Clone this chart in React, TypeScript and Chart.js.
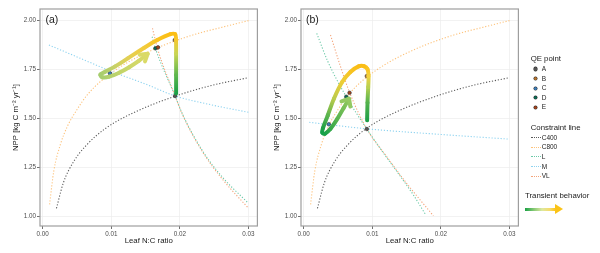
import React, { useEffect, useRef } from "react";
import { Chart, registerables } from "chart.js";

Chart.register(...registerables);

const FONT = "'Liberation Sans', Arial, sans-serif";

// axes
const xTicks = [0, 0.01, 0.02, 0.03];
const yTicks = [1.0, 1.25, 1.5, 1.75, 2.0];

// constraint curves shared by both panels
const c400X = [0.002, 0.003, 0.0045, 0.0064, 0.0092, 0.013, 0.0194, 0.0247, 0.03];
const c400Y = [1.043, 1.172, 1.28, 1.365, 1.45, 1.525, 1.614, 1.668, 1.707];
const c800X = [0.001, 0.0016, 0.0026, 0.0036, 0.005, 0.0065, 0.0085, 0.011, 0.014, 0.0175, 0.022, 0.026, 0.03];
const c800Y = [1.063, 1.23, 1.37, 1.46, 1.545, 1.62, 1.69, 1.755, 1.815, 1.87, 1.925, 1.962, 1.997];

// panel (a)
const lAX = [0.01595, 0.01643, 0.0193, 0.0204, 0.0233, 0.0261, 0.03];
const lAY = [1.915, 1.856, 1.614, 1.52, 1.335, 1.205, 1.068];
const mAX = [0.0009, 0.0055, 0.0098, 0.0151, 0.0193, 0.0247, 0.03];
const mAY = [1.873, 1.805, 1.742, 1.673, 1.614, 1.568, 1.531];
const vlAX = [0.016, 0.0167, 0.0193, 0.0204, 0.0233, 0.0261, 0.03];
const vlAY = [1.958, 1.859, 1.614, 1.517, 1.33, 1.195, 1.043];
const qeAX = [0.0193, 0.01926, 0.0098, 0.01643, 0.01681];
const qeAY = [1.614, 1.898, 1.729, 1.856, 1.861];
const pathAX = [0.01945, 0.01945, 0.01945, 0.01943, 0.0193, 0.0186, 0.0167, 0.0148, 0.0124, 0.0105, 0.0091, 0.0084, 0.0087, 0.0097, 0.0112, 0.0126, 0.014, 0.0153];
const pathAY = [1.627, 1.72, 1.83, 1.905, 1.928, 1.928, 1.898, 1.859, 1.805, 1.763, 1.737, 1.722, 1.709, 1.712, 1.733, 1.76, 1.792, 1.828];
const pathAColors = ["#1BA045", "#5DB64C", "#C9D452", "#F8C72A", "#FBBE14", "#FBBE14", "#F9C322", "#F2CB3C", "#E2D055", "#C9D166", "#B0CE6C", "#A6CD6E", "#A8CE6E", "#B2D16C", "#C0D46A", "#CCD668", "#D4D867", "#DADA66"];

// panel (b)
const lBX = [0.0019, 0.0035, 0.0062, 0.0092, 0.0115, 0.014, 0.016, 0.0178];
const lBY = [1.932, 1.79, 1.61, 1.446, 1.33, 1.21, 1.11, 1.009];
const mBX = [0.0008, 0.0092, 0.0197, 0.0298];
const mBY = [1.48, 1.447, 1.419, 1.395];
const vlBX = [0.0039, 0.0053, 0.0067, 0.0092, 0.012, 0.015, 0.0189];
const vlBY = [1.924, 1.77, 1.63, 1.446, 1.31, 1.17, 1.005];
const qeBX = [0.0092, 0.0092, 0.00365, 0.0062, 0.00668];
const qeBY = [1.446, 1.715, 1.47, 1.61, 1.63];
const pathBX = [0.00924, 0.0093, 0.0094, 0.00945, 0.0093, 0.0088, 0.008, 0.0068, 0.0056, 0.0044, 0.0035, 0.0028, 0.0027, 0.0031, 0.0039, 0.0049, 0.0058, 0.0066];
const pathBY = [1.49, 1.58, 1.66, 1.715, 1.75, 1.765, 1.764, 1.736, 1.685, 1.6, 1.515, 1.45, 1.428, 1.422, 1.447, 1.498, 1.552, 1.6];
const pathBColors = ["#1E9F48", "#52B24C", "#B9D050", "#F2D23E", "#F9C624", "#FBBE16", "#FABD16", "#F7C322", "#EDCD36", "#BCCB4C", "#5DB54E", "#22A147", "#16A047", "#1AA147", "#35A94A", "#58B44F", "#78BF58", "#94C962"];

// legend
const qeLabels = ["A", "B", "C", "D", "E"];
const qeColors = ["#555555", "#B8732C", "#3C7EBB", "#0A6B55", "#A3421C"];
const lineLabels = ["C400", "C800", "L", "M", "VL"];
const lineColors = ["#5A5A5A", "#FDC27A", "#6CC9A8", "#8ED3F0", "#F4A47A"];

const zip = (xs: number[], ys: number[]) => xs.map((x, i) => ({ x, y: ys[i] }));

const framePlugin = {
  id: "frame",
  afterDraw(chart: any) {
    const { ctx, chartArea: a } = chart;
    ctx.save();
    ctx.strokeStyle = "#9E9E9E";
    ctx.lineWidth = 1.2;
    ctx.strokeRect(a.left, a.top, a.right - a.left, a.bottom - a.top);
    ctx.restore();
  },
};

const arrowPlugin = {
  id: "arrowHead",
  afterDatasetsDraw(chart: any, _args: any, opts: any) {
    const pts = chart.getDatasetMeta(0).data;
    const n = pts.length;
    const tip = pts[n - 1];
    const prev = pts[n - 2];
    const ang = Math.atan2(tip.y - prev.y, tip.x - prev.x);
    const L = 8;
    const a = (opts.spread * Math.PI) / 180;
    const ctx = chart.ctx;
    ctx.save();
    ctx.strokeStyle = opts.color;
    ctx.lineWidth = 4;
    ctx.lineCap = "round";
    ctx.lineJoin = "round";
    ctx.beginPath();
    ctx.moveTo(tip.x - L * Math.cos(ang - a), tip.y - L * Math.sin(ang - a));
    ctx.lineTo(tip.x, tip.y);
    ctx.lineTo(tip.x - L * Math.cos(ang + a), tip.y - L * Math.sin(ang + a));
    ctx.stroke();
    ctx.restore();
  },
};

type PanelData = {
  lX: number[]; lY: number[]; mX: number[]; mY: number[]; vlX: number[]; vlY: number[];
  qeX: number[]; qeY: number[]; pX: number[]; pY: number[]; pC: string[]; spread: number;
};

function buildConfig(d: PanelData, canvas: HTMLCanvasElement): any {
  const segColor = (ctx: any) => {
    const c = canvas.getContext("2d")!;
    const g = c.createLinearGradient(ctx.p0.x, ctx.p0.y, ctx.p1.x, ctx.p1.y);
    g.addColorStop(0, d.pC[ctx.p0DataIndex]);
    g.addColorStop(1, d.pC[ctx.p1DataIndex]);
    return g;
  };
  const curve = (xs: number[], ys: number[], color: string) => ({
    data: zip(xs, ys),
    showLine: true,
    borderColor: color,
    borderWidth: 1.1,
    borderDash: [1.2, 1.8],
    pointRadius: 0,
    cubicInterpolationMode: "monotone",
    fill: false,
  });
  return {
    type: "scatter",
    data: {
      datasets: [
        {
          data: zip(d.pX, d.pY),
          showLine: true,
          borderWidth: 4,
          borderColor: d.pC[0],
          borderCapStyle: "round",
          borderJoinStyle: "round",
          pointRadius: 0,
          tension: 0.35,
          fill: false,
          segment: { borderColor: segColor },
        },
        {
          data: zip(d.qeX, d.qeY),
          showLine: false,
          pointRadius: 1.8,
          pointBackgroundColor: qeColors,
          pointBorderColor: "#2B2B2B",
          pointBorderWidth: 0.6,
        },
        curve(c400X, c400Y, lineColors[0]),
        curve(c800X, c800Y, lineColors[1]),
        curve(d.lX, d.lY, lineColors[2]),
        curve(d.mX, d.mY, lineColors[3]),
        curve(d.vlX, d.vlY, lineColors[4]),
      ],
    },
    options: {
      responsive: false,
      animation: false,
      devicePixelRatio: 1,
      events: [],
      layout: { padding: { top: 9, right: 2, left: 0, bottom: 0 } },
      plugins: {
        legend: { display: false },
        tooltip: { enabled: false },
        arrowHead: { color: d.pC[d.pC.length - 1], spread: d.spread },
      },
      scales: {
        x: {
          type: "linear",
          min: -0.0004,
          max: 0.0313,
          afterBuildTicks: (s: any) => {
            s.ticks = xTicks.map((v) => ({ value: v }));
          },
          afterFit: (s: any) => {
            s.height = 27;
          },
          ticks: {
            callback: (v: any) => Number(v).toFixed(2),
            font: { family: FONT, size: 6.3 },
            color: "#4D4D4D",
            padding: 1,
            maxRotation: 0,
            autoSkip: false,
          },
          grid: { color: "#EDEDED", lineWidth: 0.7, tickLength: 3, tickColor: "#4D4D4D", tickWidth: 0.8 },
          border: { display: false },
          title: {
            display: true,
            text: "Leaf N:C ratio",
            font: { family: FONT, size: 7.8 },
            color: "#1A1A1A",
            padding: { top: 0, bottom: 7 },
          },
        },
        y: {
          type: "linear",
          min: 0.953,
          max: 2.056,
          afterBuildTicks: (s: any) => {
            s.ticks = yTicks.map((v) => ({ value: v }));
          },
          afterFit: (s: any) => {
            s.width = 40;
          },
          ticks: {
            callback: (v: any) => Number(v).toFixed(2),
            font: { family: FONT, size: 6.3 },
            color: "#4D4D4D",
            padding: 1,
            autoSkip: false,
          },
          grid: { color: "#EDEDED", lineWidth: 0.7, tickLength: 3, tickColor: "#4D4D4D", tickWidth: 0.8 },
          border: { display: false },
          title: {
            display: true,
            text: "NPP [kg C m\u207B\u00B2 yr\u207B\u00B9]",
            font: { family: FONT, size: 7.8 },
            color: "#1A1A1A",
            padding: { top: 11, bottom: 0 },
          },
        },
      },
    },
    plugins: [framePlugin, arrowPlugin],
  };
}

function Panel({ left, label, d }: { left: number; label: string; d: PanelData }) {
  const ref = useRef<HTMLCanvasElement>(null);
  useEffect(() => {
    const canvas = ref.current!;
    const chart = new Chart(canvas, buildConfig(d, canvas));
    return () => chart.destroy();
  }, []);
  return (
    <div style={{ position: "absolute", left, top: 0, width: 262, height: 253 }}>
      <canvas ref={ref} width={262} height={253} style={{ display: "block", width: 262, height: 253 }} />
      <div
        style={{
          position: "absolute",
          left: 45.5,
          top: 19,
          transform: "translateY(-50%)",
          fontFamily: FONT,
          fontSize: 10.5,
          lineHeight: 1,
          color: "#1A1A1A",
        }}
      >
        {label}
      </div>
    </div>
  );
}

const txt = (top: number, left: number, size: number): React.CSSProperties => ({
  position: "absolute",
  left,
  top,
  transform: "translateY(-50%)",
  fontFamily: FONT,
  fontSize: size,
  lineHeight: 1,
  color: "#1A1A1A",
  whiteSpace: "nowrap",
});

function Legend() {
  const qeTop = 69;
  const lnTop = 137.7;
  const step = 9.6;
  return (
    <div style={{ position: "absolute", left: 0, top: 0, width: 600, height: 253, pointerEvents: "none" }}>
      <div style={txt(59, 530.7, 7.8)}>QE point</div>
      {qeLabels.map((l, i) => (
        <React.Fragment key={l}>
          <div
            style={{
              position: "absolute",
              left: 533.5,
              top: qeTop + i * step - 1.6,
              width: 3.2,
              height: 3.2,
              borderRadius: "50%",
              background: qeColors[i],
              boxShadow: "0 0 0 0.5px #2B2B2B",
            }}
          />
          <div style={txt(qeTop + i * step, 541.7, 6.5)}>{l}</div>
        </React.Fragment>
      ))}
      <div style={txt(128.3, 530.7, 7.8)}>Constraint line</div>
      {lineLabels.map((l, i) => (
        <React.Fragment key={l}>
          <div
            style={{
              position: "absolute",
              left: 530.7,
              top: lnTop + i * step - 0.6,
              width: 10,
              height: 0,
              borderTop: `1.3px dotted ${lineColors[i]}`,
            }}
          />
          <div style={txt(lnTop + i * step, 541.7, 6.5)}>{l}</div>
        </React.Fragment>
      ))}
      <div style={txt(196, 525, 7.8)}>Transient behavior</div>
      <div
        style={{
          position: "absolute",
          left: 525,
          top: 207.5,
          width: 31,
          height: 3,
          background: "linear-gradient(to right, #1AA145 0%, #8CCB78 30%, #DDE8A0 55%, #F6DB6A 80%, #FBC316 100%)",
        }}
      />
      <div
        style={{
          position: "absolute",
          left: 555,
          top: 204,
          width: 0,
          height: 0,
          borderTop: "5px solid transparent",
          borderBottom: "5px solid transparent",
          borderLeft: "8px solid #FBC316",
        }}
      />
    </div>
  );
}

const panelA: PanelData = {
  lX: lAX, lY: lAY, mX: mAX, mY: mAY, vlX: vlAX, vlY: vlAY,
  qeX: qeAX, qeY: qeAY, pX: pathAX, pY: pathAY, pC: pathAColors, spread: 32,
};
const panelB: PanelData = {
  lX: lBX, lY: lBY, mX: mBX, mY: mBY, vlX: vlBX, vlY: vlBY,
  qeX: qeBX, qeY: qeBY, pX: pathBX, pY: pathBY, pC: pathBColors, spread: 40,
};

export default function App() {
  return (
    <div style={{ position: "fixed", left: 0, top: 0, width: 600, height: 253, background: "#FFFFFF", overflow: "hidden" }}>
      <Panel left={0} label="(a)" d={panelA} />
      <Panel left={260.5} label="(b)" d={panelB} />
      <Legend />
    </div>
  );
}
